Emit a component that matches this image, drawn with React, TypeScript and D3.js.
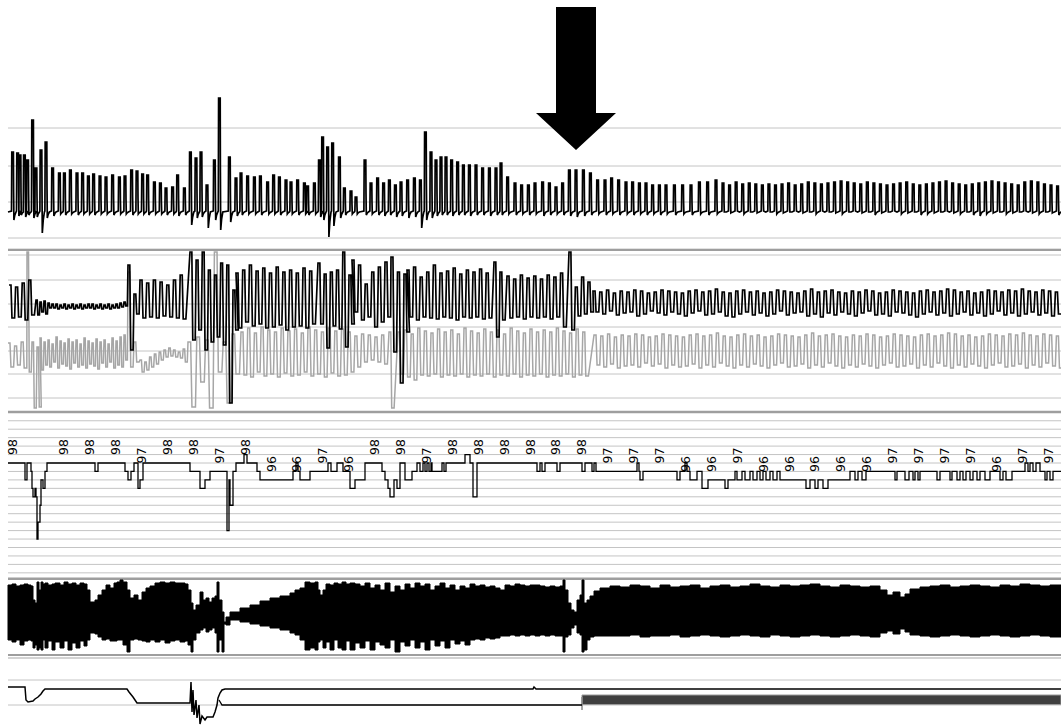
import React from "react";
import * as d3 from "d3";

const W = 1061;
const H = 726;
const T_MAX = 526.5; // seconds shown

// ---------- Panel 1 : upper respiratory trace (cycle peaks / troughs) ----------
const flowTimesA = [1.8, 4.3, 5.5, 7.7, 9.3, 11.8, 13.5, 16, 18.5, 21.8, 25.2, 27.7, 30.7, 34, 36.8, 39.7, 42.3, 45.5, 48.5, 51.8, 55.2, 58, 61.3, 64, 66.8, 69.3, 72.7, 75.7, 78.5, 81.8, 84.3, 87.7, 90.7, 93.5, 96, 99, 102.7, 105.2, 110.2, 113.5, 116, 119.3, 122.7, 125.7, 129.3, 132.3, 135.2, 138.5, 141, 144.3, 147.7, 149.3, 152.7, 155.2, 156.8, 159.3, 161.8, 165.2, 167.7, 171, 173.5];
const flowPeaksA = [60, 59, 57, 57, 52, 92, 44, 62, 70, 44, 39, 39, 42, 39, 39, 36, 38, 36, 35, 37, 35, 36, 42, 41, 38, 37, 30, 29, 24, 25, 37, 24, 60, 54, 60, 27, 52, 114, 55, 34, 39, 36, 35, 36, 30, 37, 35, 32, 30, 32, 29, 26, 29, 52, 75, 65, 69, 55, 24, 21, 15];
const flowTroughsA = [-8, -4, -3, -5, -3, -6, -5, -21, -6, -4, -2, -3, -2, -3, -2, -2, -3, -2, -2, -3, -2, -2, -3, -2, -2, -3, -2, -2, -3, -2, -4, -3, -13, -6, -5, -16, -8, -18, -10, -4, -3, -2, -2, -3, -2, -2, -3, -2, -2, -3, -2, -3, -2, -5, -8, -25, -14, -6, -3, -2, -2];
const flowTimesB = [178, 181, 184.3, 187.3, 190.2, 193.2, 196, 199.3, 202.7, 205.7, 208.2, 211, 213.5, 216, 218.5, 221.3, 224.3, 227.2, 230.2, 233.5, 236.8, 240.2, 243.5, 246, 249.3, 253, 256.3, 259.7, 263, 266.8, 270.2, 273.5, 276.8, 280.2, 283.5, 287.2, 290.7, 294.3, 298, 301.3, 304.8, 308.5, 311.8, 315.2, 318.5, 321.8, 325.2, 328.5, 332.7, 336.8, 341, 345.2, 349.3, 353.5];
const flowPeaksB = [52, 29, 34, 29, 32, 27, 30, 32, 34, 32, 80, 60, 52, 55, 55, 52, 50, 47, 47, 47, 44, 44, 44, 49, 35, 29, 27, 27, 29, 30, 29, 25, 29, 42, 42, 42, 39, 32, 32, 34, 32, 30, 30, 29, 29, 27, 27, 27, 27, 27, 27, 30, 30, 32];
const flowTroughsB = [-3, -2, -3, -4, -3, -5, -4, -6, -5, -16, -8, -6, -4, -3, -3, -4, -3, -3, -4, -3, -3, -4, -3, -3, -2, -3, -2, -3, -2, -4, -3, -2, -3, -4, -5, -4, -3, -2, -3, -2, -3, -2, -3, -2, -3, -2, -3, -2, -3, -2, -3, -2, -3, -2];
const flowTimingC = [357, 3.28]; // start, cycle length (s)
const flowPeaksC = [29, 27, 30, 28, 29, 28, 27, 28, 27, 28, 29, 27, 28, 30, 29, 28, 29, 30, 31, 30, 29, 28, 30, 29, 28, 27, 28, 29, 30, 28, 27, 28, 29, 30, 31, 29, 28, 27, 28, 29, 30, 31, 30, 29, 28, 27, 30, 31, 30, 28, 27, 26];
const flowTroughsC = [0, -1, 1, -2, 0, -1, 1, 0, -2, -1, 0, 1, -1, 0, -2, 1, 0, -1, -2, 0, 1, -1, 0, -3, -1, 0, 1, -2, -1, 0, -3, -2, -1, 0, 1, -1, -2, 0, -3, -4, -2, -1, 0, -2, -1, 0, 1, -1, -2, 0, -1, -3];

// ---------- Panel 2 : thoracic (black) and abdominal (grey) effort ----------
// timing rows: [start s, cycle length s, number of cycles]
const thoraxTiming = [[0.5, 3.3, 4], [14, 2, 23], [60, 3, 2], [66, 3.35, 7], [91, 3.07, 8], [114, 3.35, 12], [155, 3.1, 6], [172, 3.3, 6], [191.5, 3.25, 3], [199.5, 3.3, 13], [243, 3, 2], [249.5, 3.35, 9], [280.5, 3.17, 4], [292.5, 3.4, 69]];
const thoraxHi = [127, 125, 129, 132,
  112, 110, 111, 109, 108, 108, 107, 108, 107, 108, 107, 108, 107, 108, 108, 107, 108, 107, 108, 107, 108, 109, 110,
  147, 118,
  132, 129, 132, 130, 127, 132, 137,
  160, 152, 160, 142, 137, 149, 147, 122,
  139, 142, 147, 141, 144, 139, 145, 140, 142, 139, 144, 141,
  149, 138, 140, 142, 160, 137,
  152, 147, 128, 140, 145, 150,
  155, 140, 138,
  142, 145, 135, 140, 147, 139, 141, 144, 138, 142, 140, 143, 139,
  150, 140,
  136, 133, 137, 134, 136, 133, 137, 135, 139,
  160, 125, 135, 130,
  121, 120, 122, 119, 121, 120, 122, 121, 119, 120, 122, 121, 120, 119, 121, 122, 120, 121, 123, 120, 119, 121, 122, 120, 121, 119, 120, 122, 121, 120, 119, 121, 123, 120, 121, 122, 120, 119, 121, 120, 122, 121, 119, 120, 122, 121, 120, 119, 121, 122, 120, 121, 123, 122, 120, 121, 119, 120, 122, 121, 120, 122, 121, 123, 121, 120, 122, 121, 120];
const thoraxLo = [94, 95, 92, 97,
  97, 100, 98, 104, 104, 103, 104, 103, 104, 103, 104, 103, 104, 104, 103, 104, 103, 104, 103, 104, 104, 105, 106,
  62, 98,
  94, 95, 94, 96, 95, 94, 93,
  72, 82, 62, 70, 75, 67, 9, 82,
  84, 90, 86, 88, 84, 85, 87, 82, 85, 86, 84, 88,
  88, 64, 86, 83, 65, 88,
  100, 92, 95, 85, 90, 95,
  60, 29, 80,
  95, 92, 95, 94, 93, 95, 94, 92, 95, 94, 95, 93, 94,
  75, 92,
  94, 95, 93, 95, 94, 95, 93, 95, 85,
  82, 96, 98, 100,
  100, 98, 101, 97, 99, 100, 96, 98, 101, 99, 97, 100, 98, 96, 99, 101, 97, 98, 100, 96, 95, 98, 100, 97, 99, 96, 98, 101, 97, 99, 100, 96, 98, 95, 99, 97, 100, 98, 96, 99, 101, 97, 98, 96, 100, 99, 97, 95, 98, 100, 97, 99, 96, 98, 100, 97, 99, 96, 98, 101, 97, 99, 96, 98, 100, 97, 99, 96, 98];

const abdomenTiming = [[0, 3.3, 3], [9.5, 2.5, 3], [16, 2, 22], [60, 3, 2], [66, 2.4, 10], [90, 4.4, 6], [116.5, 3.35, 22], [190.5, 3, 1], [195, 3.3, 29], [293, 3.4, 69]];
const abdomenHi = [69, 66, 70,
  160, 70, 65,
  74, 70, 72, 68, 75, 71, 69, 73, 70, 72, 68, 74, 71, 69, 73, 70, 72, 68, 74, 71, 75, 77,
  140, 70,
  52, 50, 55, 58, 60, 62, 64, 62, 60, 63,
  70, 75, 72, 160, 70, 78,
  80, 84, 79, 85, 82, 80, 84, 81, 83, 79, 85, 82, 80, 84, 81, 83, 80, 76, 78, 77, 75, 77,
  80,
  80, 82, 78, 84, 81, 79, 83, 80, 82, 78, 84, 81, 79, 83, 80, 82, 78, 84, 81, 79, 83, 80, 82, 80, 84, 81, 79, 83, 80,
  77, 76, 78, 75, 77, 76, 78, 77, 75, 76, 78, 77, 76, 75, 77, 78, 76, 77, 79, 76, 75, 77, 78, 76, 77, 75, 76, 78, 77, 76, 75, 77, 79, 76, 77, 78, 76, 75, 77, 76, 78, 77, 75, 76, 78, 77, 76, 75, 77, 78, 76, 77, 79, 78, 76, 77, 75, 76, 78, 77, 76, 78, 77, 79, 77, 76, 78, 77, 76];
const abdomenLo = [45, 47, 44,
  40, 4, 5,
  42, 47, 45, 50, 44, 48, 46, 43, 49, 45, 47, 44, 48, 46, 43, 49, 45, 50, 44, 47, 45, 52,
  45, 50,
  40, 42, 45, 48, 52, 55, 56, 55, 54, 50,
  5, 30, 4, 40, 9, 38,
  37, 35, 40, 36, 38, 35, 39, 36, 37, 40, 36, 38, 35, 39, 36, 37, 40, 45, 50, 52, 50, 48,
  4,
  38, 35, 32, 37, 36, 38, 35, 37, 36, 38, 35, 37, 36, 38, 35, 37, 36, 38, 35, 37, 36, 38, 35, 37, 36, 38, 35, 37, 36,
  47, 45, 48, 44, 46, 47, 45, 49, 46, 48, 44, 47, 45, 46, 48, 44, 47, 45, 49, 46, 44, 47, 45, 48, 46, 44, 47, 49, 45, 46, 48, 44, 47, 45, 49, 46, 44, 47, 45, 48, 46, 44, 47, 49, 45, 46, 48, 44, 47, 45, 49, 46, 44, 47, 45, 48, 46, 44, 47, 49, 45, 46, 48, 44, 47, 45, 49, 46, 44];

// ---------- Panel 3 : SpO2 (%) step trace and epoch labels ----------
const spo2Steps: [number, number][] = [[0, 98], [8.5, 96], [9.5, 98], [11.5, 97], [12, 95], [12.5, 94], [13.5, 95], [14, 94], [14.5, 89], [15, 91], [16, 93], [16.5, 96], [17.5, 95], [18.5, 97], [19.5, 98], [43.5, 97], [45, 98], [58.5, 97], [60, 96], [61.5, 97], [63, 98], [65, 95], [66, 96], [67.5, 98], [91, 97], [96, 95], [98.5, 96], [101, 97], [109.5, 90], [110.5, 96], [111, 93], [112.5, 97], [114, 98], [118, 99], [119.5, 98], [124.5, 97], [126, 96], [142.5, 97], [144, 98], [145, 97], [146, 96], [151, 97], [160, 98], [161.5, 97], [164.5, 98], [167.5, 97], [171, 95], [173.5, 96], [178.5, 98], [187, 97], [188.5, 96], [190, 95], [191, 94], [193, 96], [194.5, 95], [196, 98], [198.5, 96], [202, 97], [204.5, 98], [206, 97], [207.5, 98], [208.5, 97], [209.5, 98], [210.5, 97], [211.5, 98], [212, 97], [217, 98], [218, 97], [219, 98], [228.5, 99], [231, 98], [232.5, 94], [234.5, 98], [264.5, 97], [266, 98], [267, 97], [268.5, 98], [274.5, 97], [276, 98], [287, 97], [288.5, 98], [292, 97], [293, 98], [294, 97], [314.5, 98], [315.5, 97], [316, 96], [317.5, 97], [334.5, 96], [336, 97], [338.5, 98], [339.5, 97], [341, 96], [344.5, 97], [347, 95], [350, 96], [358.5, 95], [360, 96], [363.5, 97], [364.5, 96], [367, 97], [368.5, 96], [371, 97], [372.5, 96], [374.5, 97], [376, 96], [377.5, 97], [379, 96], [381, 97], [382.5, 96], [384.5, 97], [386, 96], [399, 95], [401, 96], [403.5, 95], [405, 96], [407.5, 95], [410, 96], [421, 97], [423.5, 96], [425, 97], [427, 96], [429, 97], [443.5, 96], [444.5, 97], [448.5, 96], [450.5, 97], [452.5, 96], [453.5, 97], [455, 96], [456, 97], [464.5, 96], [466, 97], [471, 96], [472, 97], [474.5, 96], [476, 97], [477.5, 96], [479, 97], [481, 96], [482.5, 97], [484.5, 96], [486, 97], [488.5, 96], [491, 97], [496, 96], [497.5, 97], [499, 96], [502, 97], [508.5, 98], [510, 97], [511, 98], [512.5, 97], [514, 98], [516, 97], [518.5, 96], [519.5, 97], [521, 96], [522.5, 97], [526.5, 97]];
const spo2LabelTiming = [2, 12.95]; // first label time, label interval (s)
const spo2Labels: (number | null)[] = [98, null, 98, 98, 98, 97, 98, 98, 97, 98, 96, 96, 97, 96, 98, 98, 97, 98, 98, 98, 98, 98, 98, 97, 97, 97, 96, 96, 97, 96, 96, 96, 96, 96, 97, 97, 97, 97, 96, 97, 97];

// ---------- Panel 4 : snore / EMG envelope [t, top, bottom] ----------
const envelope: [number, number, number][] = [[0, 26, -29], [2, 27, -31], [4, 25, -29], [6, 26, -34], [8, 27, -30], [10, 26, -29], [11.5, 25, -30], [12.5, 11, -37], [13.5, 8, -34], [14.5, 29, -39], [15.5, 21, -37], [16.5, 29, -39], [17.5, 27, -29], [18.5, 28, -37], [20, 26, -30], [22, 27, -39], [23.5, 28, -31], [26, 26, -37], [28, 29, -30], [30, 27, -39], [32, 28, -32], [34, 26, -37], [36, 28, -30], [38, 27, -35], [39.5, 21, -29], [41, 9, -22], [43.5, 11, -23], [45, 16, -26], [47, 21, -29], [49, 26, -28], [51, 23, -30], [53, 28, -30], [54.5, 29, -29], [56, 31, -29], [57.5, 29, -34], [59.5, 21, -41], [61, 13, -29], [63, 16, -28], [65, 11, -29], [67, 19, -30], [69, 23, -31], [71, 25, -29], [73.5, 28, -31], [76, 29, -29], [78.5, 28, -32], [81, 29, -30], [83.5, 28, -29], [86, 28, -31], [88.5, 27, -30], [90, 21, -34], [91.5, 8, -41], [92.5, 1, -29], [94, 6, -22], [96, 19, -19], [97.5, 11, -17], [99, 13, -21], [100.5, 9, -19], [102, 13, -17], [103.5, 15, -22], [104.5, 29, -41], [105.5, 11, -29], [107, -1, -41], [108, -11, -13], [109, -6, -14], [111, -1, -9], [116, 3, -11], [121, 6, -13], [126, 10, -15], [131, 13, -17], [136, 15, -19], [141, 18, -22], [143.5, 21, -24], [146, 23, -29], [148.5, 29, -39], [151, 28, -37], [153.5, 29, -39], [155, 21, -31], [156, 16, -29], [157.5, 21, -37], [159, 27, -31], [161, 26, -39], [163, 28, -29], [165, 27, -37], [167, 29, -39], [169, 27, -30], [171, 28, -39], [173.5, 27, -32], [176, 25, -37], [178.5, 28, -30], [181, 23, -39], [183.5, 26, -31], [186, 21, -34], [188.5, 28, -37], [191, 19, -29], [193.5, 25, -41], [196, 21, -31], [198.5, 27, -35], [201, 23, -29], [203.5, 28, -37], [206, 25, -31], [208.5, 27, -39], [211, 21, -29], [213.5, 25, -35], [216, 28, -30], [218.5, 23, -37], [221, 26, -29], [223.5, 21, -33], [226, 25, -30], [228.5, 23, -34], [231, 27, -29], [233.5, 25, -28], [236, 26, -29], [238.5, 24, -27], [241, 25, -28], [243.5, 23, -27], [246, 21, -25], [248.5, 26, -25], [251, 25, -24], [253.5, 27, -25], [256, 26, -24], [258.5, 25, -25], [261, 26, -24], [263.5, 26, -25], [266, 25, -24], [268.5, 24, -25], [271, 25, -24], [273.5, 24, -25], [276, 25, -25], [277.5, 31, -41], [278.5, 21, -26], [280, 8, -24], [281.5, 1, -17], [283, -1, -14], [284.5, 11, -22], [286, 16, -24], [287, 31, -41], [288, 8, -39], [289.5, 11, -29], [291, 15, -26], [293, 20, -25], [296, 23, -25], [301, 25, -25], [306, 24, -25], [311, 26, -24], [316, 25, -26], [321, 23, -25], [326, 26, -25], [331, 24, -24], [336, 25, -26], [341, 26, -25], [346, 23, -24], [351, 25, -25], [356, 26, -26], [361, 24, -25], [366, 25, -24], [371, 27, -25], [376, 25, -26], [381, 24, -24], [386, 26, -25], [391, 25, -26], [396, 26, -25], [401, 27, -24], [406, 25, -25], [411, 24, -26], [416, 26, -25], [421, 25, -24], [426, 24, -25], [431, 25, -26], [436, 21, -22], [439.5, 16, -20], [442.5, 19, -23], [446, 14, -18], [448.5, 17, -21], [451, 22, -24], [456, 24, -25], [461, 25, -26], [466, 26, -25], [471, 24, -24], [476, 25, -25], [481, 26, -26], [486, 25, -25], [491, 24, -24], [496, 26, -25], [501, 25, -26], [506, 27, -25], [511, 26, -24], [516, 25, -25], [521, 26, -26], [526.5, 25, -25]];

// ---------- Panel 5 : position / level traces ----------
const posUpper: [number, number][] = [[0, 18], [8.5, 18], [9, 5], [10, 3], [12.5, 4], [13.5, 6], [15, 8], [16.5, 11], [17.5, 14], [18.5, 16], [59.5, 16], [60.5, 13], [62.5, 8], [63.5, 5], [64.5, 2], [91, 2], [91.5, 23], [92, -7], [92.5, 15], [93, -10], [94, 5], [94.5, -13], [95.5, 0], [96, -19], [97, -11], [98.5, -15], [99.5, -12], [102.5, -12], [103.5, -7], [104.5, 0], [105, 7], [106, 12], [107, 15], [108.5, 16], [262.5, 16], [263, 18], [264, 16], [526.5, 16]];
const posLower: [number, number][] = [[105.5, 5], [107, 0], [287, 0]];
const posBand: [number, number, number][] = [[287, 10, 0.5], [526.5, 10, 0.5]];
const arrowTime = 284;

type Cycle = { t: number; dt: number; hi: number; lo: number };

function buildCycles(timing: number[][], hi: number[], lo: number[]): Cycle[] {
  const out: Cycle[] = [];
  let k = 0;
  timing.forEach(([t0, dt, n]) => {
    for (let i = 0; i < n; i++) {
      out.push({ t: t0 + i * dt, dt, hi: hi[k], lo: lo[k] });
      k++;
    }
  });
  return out;
}

function squarePts(cycles: Cycle[]): [number, number][] {
  const pts: [number, number][] = [];
  cycles.forEach((c) => {
    pts.push([c.t, c.hi], [c.t + 0.3 * c.dt, c.hi], [c.t + 0.45 * c.dt, c.lo], [c.t + 0.85 * c.dt, c.lo]);
  });
  return pts;
}

function spikePts(times: number[], peaks: number[], troughs: number[]): [number, number][] {
  const pts: [number, number][] = [];
  times.forEach((t, i) => {
    pts.push(
      [t - 0.05, 1],
      [t + 0.1, peaks[i]],
      [t + 0.9, peaks[i]],
      [t + 1.0, peaks[i] * 0.35],
      [t + 1.15, troughs[i]],
      [t + 1.6, troughs[i] * 0.4],
      [t + 2.2, 0]
    );
  });
  return pts;
}

export default function App() {
  const x = d3.scaleLinear().domain([0, T_MAX]).range([8, W]);
  const y1 = d3.scaleLinear().domain([-26, 84]).range([238, 128]);
  const y2 = d3.scaleLinear().domain([0, 162]).range([412, 250]);
  const y3 = d3.scaleLinear().domain([85, 103]).range([572.85, 420.75]);
  const y4 = d3.scaleLinear().domain([-47, 45]).range([658, 566]);
  const y5 = d3.scaleLinear().domain([-21, 25]).range([726, 680]);

  const timesC = flowPeaksC.map((_, i) => flowTimingC[0] + i * flowTimingC[1]);
  const flowPts: [number, number][] = [
    [0, 0],
    ...spikePts(flowTimesA, flowPeaksA, flowTroughsA),
    ...spikePts(flowTimesB, flowPeaksB, flowTroughsB),
    ...spikePts(timesC, flowPeaksC, flowTroughsC),
    [T_MAX, 0],
  ];
  const line1 = d3.line<[number, number]>().x((d) => x(d[0])).y((d) => y1(d[1]));
  const line2 = d3.line<[number, number]>().x((d) => x(d[0])).y((d) => y2(d[1]));
  const line3 = d3.line<[number, number]>().x((d) => x(d[0])).y((d) => y3(d[1])).curve(d3.curveStepAfter);
  const line5 = d3.line<[number, number]>().x((d) => x(d[0])).y((d) => y5(d[1]));
  const area4 = d3
    .area<[number, number, number]>()
    .x((d) => x(d[0]))
    .y0((d) => y4(d[2]))
    .y1((d) => y4(d[1]))
    .curve(d3.curveStepAfter);
  const area5 = d3.area<[number, number, number]>().x((d) => x(d[0])).y0((d) => y5(d[2])).y1((d) => y5(d[1]));

  const thorax = squarePts(buildCycles(thoraxTiming, thoraxHi, thoraxLo));
  const abdomen = squarePts(buildCycles(abdomenTiming, abdomenHi, abdomenLo));

  const thin = "#c4c4c4";
  const thick = "#9e9e9e";
  const hLine = (yy: number, key: string, color = thin, w = 1) => (
    <line key={key} x1={x(0)} x2={x(T_MAX)} y1={yy} y2={yy} stroke={color} strokeWidth={w} />
  );

  const ax = x(arrowTime);
  const arrow = [
    [ax - 20, 7], [ax + 20, 7], [ax + 20, 113], [ax + 40, 113], [ax, 150], [ax - 40, 113], [ax - 20, 113],
  ].map((p) => p.join(",")).join(" ");

  return (
    <svg width={W} height={H} style={{ position: "absolute", left: 0, top: 0, background: "#fff" }}>
      <rect x={0} y={0} width={W} height={H} fill="#fff" />
      {/* grid: panel 1 */}
      {[84, 46, 10, -26].map((v, i) => hLine(y1(v), "g1" + i))}
      {/* panel 2 */}
      {hLine(y2(163), "f2a0", thin, 1)}
      {hLine(y2(162), "f2a", thick, 2)}
      {[157, 132, 108, 85, 61, 38, 14].map((v, i) => hLine(y2(v), "g2" + i))}
      {hLine(y2(0), "f2b", thick, 2.5)}
      {/* panel 3 */}
      {d3.range(85, 104).map((v) => hLine(y3(v), "g3" + v))}
      {hLine(y3(84.3), "f3", thick, 2.5)}
      {/* panel 4 / 5 */}
      {hLine(y4(-44), "f4a", thick, 2)}
      {hLine(y4(-47), "f4b", thin, 1.5)}
      {[25, 0].map((v, i) => hLine(y5(v), "g5" + i))}

      {/* panel 1 trace */}
      <path d={line1(flowPts) || ""} fill="none" stroke="#000" strokeWidth={1.7} strokeLinejoin="miter" />

      {/* panel 2 traces */}
      <path d={line2(abdomen) || ""} fill="none" stroke="#a6a6a6" strokeWidth={1.5} />
      <path d={line2(thorax) || ""} fill="none" stroke="#000" strokeWidth={1.7} />

      {/* panel 3 SpO2 */}
      <path d={line3(spo2Steps) || ""} fill="none" stroke="#000" strokeWidth={1.3} />
      {spo2Labels.map((v, k) => {
        if (v === null) return null;
        const lx = x(spo2LabelTiming[0] + k * spo2LabelTiming[1]);
        const ly = y3(v) - 8;
        return (
          <text
            key={"l" + k}
            transform={`translate(${lx},${ly}) rotate(-90)`}
            fontFamily="DejaVu Sans, sans-serif"
            fontSize={12.5}
            dominantBaseline="central"
            fill="#000"
          >
            {v}
          </text>
        );
      })}

      {/* panel 4 envelope */}
      <path d={area4(envelope) || ""} fill="#000" stroke="#000" strokeWidth={1} />

      {/* panel 5 */}
      <path d={area5(posBand) || ""} fill="#3f3f3f" stroke="#999" strokeWidth={1} />
      <line x1={x(posBand[0][0])} x2={x(posBand[0][0])} y1={y5(8)} y2={y5(-5)} stroke="#888" strokeWidth={1.5} />
      <path d={line5(posLower) || ""} fill="none" stroke="#000" strokeWidth={1.3} />
      <path d={line5(posUpper) || ""} fill="none" stroke="#000" strokeWidth={1.5} />

      {/* arrow */}
      <polygon points={arrow} fill="#000" />
    </svg>
  );
}
